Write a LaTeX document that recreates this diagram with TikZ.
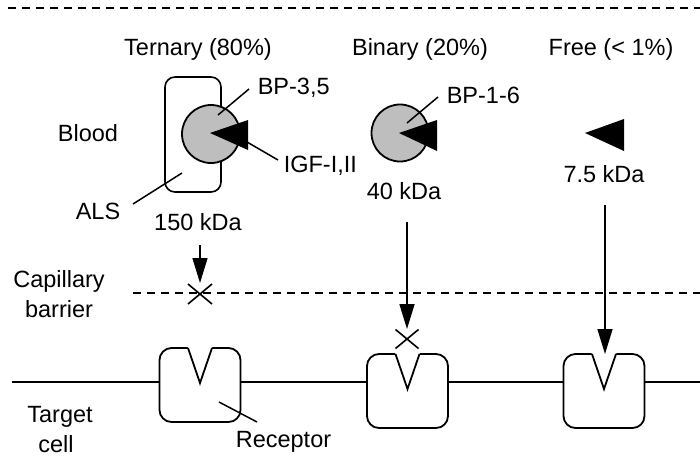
\documentclass[tikz,border=0pt]{standalone}
\usepackage{fontspec}
\setmainfont{Liberation Sans}
\usetikzlibrary{arrows.meta}
\definecolor{bpgray}{RGB}{190,190,190}
\tikzset{
  receptor/.pic={
    % rounded box with a V-shaped binding notch cut into its top edge
    \draw[fill=white, line width=1.8pt, rounded corners=12pt] (-40.5,0) rectangle (40.5,74);
    \fill[white] (-12.7,-2) -- (12.7,-2) -- (0,35) -- cycle;
    \draw[line width=1.8pt, line join=miter] (-12,0) -- (0,35) -- (12,0);
  }
}
\begin{document}
\begin{tikzpicture}[x=1pt, y=-1pt, line width=1.6pt,
  lbl/.style={inner sep=0pt, anchor=base, font=\fontsize{23.5}{28}\selectfont},
  lblw/.style={lbl, anchor=base west},
  dashline/.style={dash pattern=on 8pt off 6pt, line width=2pt},
  flow/.style={-{Triangle[length=25pt, width=15pt]}},
  bindprot/.style={draw, fill=bpgray, line width=1.8pt},
  ligand/.style={fill=black},
  lead/.style={line width=1.5pt},
  blockx/.style={line width=1.6pt}]

\useasboundingbox (0,0) rectangle (700,466);

% compartment boundaries
\draw[dashline] (8,8) -- (700,8);
\draw[dashline] (133,293) -- (700,293);
\draw (12,382) -- (700,382);

% column headings and compartment labels
\node[lbl] (tern) at (198,55) {Ternary (80\%)};
\node[lbl] (bin)  at (420,55) {Binary (20\%)};
\node[lbl] (free) at (611,55) {Free (< 1\%)};
\node[lbl] (blood) at (88,141) {Blood};
\node[lbl] (cap1) at (59,287) {Capillary};
\node[lbl] (cap2) at (59,317) {barrier};
\node[lbl] (tc1) at (60,422) {Target};
\node[lbl] (tc2) at (56,452) {cell};

% ternary complex: ALS + BP-3,5 + IGF
\draw[rounded corners=10pt] (165,77) rectangle (221,192);
\node[bindprot, circle, minimum size=58pt, inner sep=0pt] (bp35) at (211,134) {};
\fill[ligand] (210,133) -- (248,120) -- (248,150) -- cycle;
\node[lblw] (bp35t) at (257,94) {BP-3,5};
\node[lblw] (igf) at (283,172) {IGF-I,II};
\node[lblw] (als) at (75,219) {ALS};
\node[lbl] (kda150) at (198,230) {150 kDa};
\coordinate (l1a) at (218,115); \coordinate (l1b) at (249,89);
\coordinate (l2a) at (247,142); \coordinate (l2b) at (278,160);
\coordinate (l3a) at (182,173); \coordinate (l3b) at (133,204);
\draw[lead] (l1a) -- (l1b);
\draw[lead] (l2a) -- (l2b);
\draw[lead] (l3a) -- (l3b);

% binary complex
\node[bindprot, circle, minimum size=57pt, inner sep=0pt] (bp16) at (400,133) {};
\fill[ligand] (399,133) -- (437,120) -- (437,151) -- cycle;
\node[lblw] (bp16t) at (446,103) {BP-1-6};
\node[lbl] (kda40) at (404,199) {40 kDa};
\coordinate (l4a) at (407,123); \coordinate (l4b) at (438,97);
\draw[lead] (l4a) -- (l4b);

% free IGF
\fill[ligand] (585,133) -- (624,119) -- (624,151) -- cycle;
\node[lbl] (kda75) at (604,182) {7.5 kDa};

% receptors in the target cell membrane
\pic (rec1) at (200,348) {receptor};
\pic (rec2) at (407.5,354) {receptor};
\pic (rec3) at (604,354) {receptor};
\node[lblw] (rect) at (235,447) {Receptor};
\coordinate (l5a) at (219,402); \coordinate (l5b) at (257,422);
\draw[lead] (l5a) -- (l5b);

% transport arrows
\coordinate (a1s) at (200,245); \coordinate (a1e) at (200,283);
\coordinate (a2s) at (407,222); \coordinate (a2e) at (407,329);
\coordinate (a3s) at (605,205); \coordinate (a3e) at (605,354);
\draw[flow] (a1s) -- (a1e);
\draw[flow] (a2s) -- (a2e);
\draw[flow] (a3s) -- (a3e);

% blocked passage marks
\coordinate (x1) at (200,294);
\coordinate (x2) at (407,339);
\draw[blockx] (x1) ++(-12,-10) -- ++(24,20);
\draw[blockx] (x1) ++(-12,10) -- ++(24,-20);
\draw[blockx] (x2) ++(-11.5,-9.5) -- ++(23,19);
\draw[blockx] (x2) ++(-11.5,9.5) -- ++(23,-19);
\end{tikzpicture}
\end{document}
